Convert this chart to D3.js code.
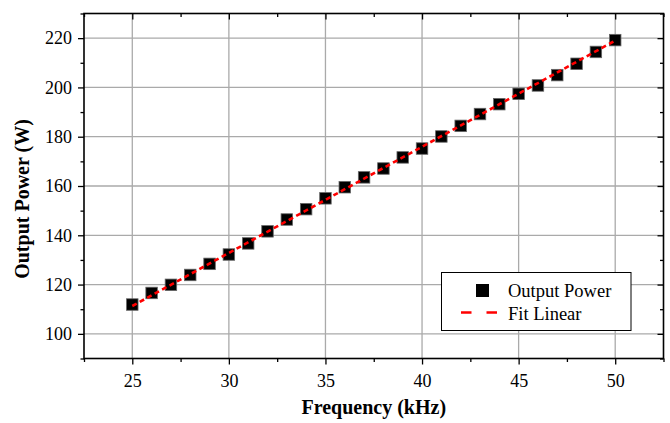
<!DOCTYPE html>
<html>
<head>
<meta charset="utf-8">
<script src="https://cdn.jsdelivr.net/npm/d3@7"></script>
<style>
  html, body { margin: 0; padding: 0; background: #fff; }
  svg { display: block; }
  text { font-family: "Liberation Serif", "Times New Roman", serif; fill: #000; }
</style>
</head>
<body>
<svg id="chart" width="670" height="423"></svg>
<script>
// ---- data ----
const frequency = [25, 26, 27, 28, 29, 30, 31, 32, 33, 34, 35, 36, 37, 38, 39, 40, 41, 42, 43, 44, 45, 46, 47, 48, 49, 50];
const outputPower = [111.9, 116.6, 119.9, 123.9, 128.4, 132.2, 136.7, 141.6, 146.4, 150.6, 155.0, 159.5, 163.5, 167.1, 171.6, 175.2, 180.1, 184.4, 189.2, 193.2, 197.4, 200.8, 205.0, 209.6, 214.4, 219.2];
const fitX = [25, 50];
const fitY = [111.3, 219.0];
const xTicks = [25, 30, 35, 40, 45, 50];
const xMinorTicks = [22.5, 27.5, 32.5, 37.5, 42.5, 47.5, 52.5];
const yTicks = [100, 120, 140, 160, 180, 200, 220];
const yMinorTicks = [90, 110, 130, 150, 170, 190, 210, 230];
const xTitle = "Frequency (kHz)";
const yTitle = "Output Power (W)";
const legendLabels = ["Output Power", "Fit Linear"];

// ---- layout ----
const svg = d3.select("#chart");
const L = 84, R = 663.5, T = 13.5, B = 358.5;
const x = d3.scaleLinear().domain([22.5, 52.5]).range([L, R]);
const y = d3.scaleLinear().domain([90, 230]).range([B, T]);

// grid
const grid = svg.append("g").attr("stroke", "#aaaaaa").attr("stroke-width", 1.3);
grid.selectAll("line.gx").data(xTicks).join("line")
  .attr("x1", d => x(d)).attr("x2", d => x(d)).attr("y1", T).attr("y2", B);
grid.selectAll("line.gy").data(yTicks).join("line")
  .attr("y1", d => y(d)).attr("y2", d => y(d)).attr("x1", L).attr("x2", R);

// axes
function styleAxis(g) {
  g.select(".domain").remove();
  g.selectAll(".tick line").attr("stroke", "#000").attr("stroke-width", 1.3);
  g.selectAll(".tick text").style("font-size", "18px").style("font-family", "'Liberation Serif', serif");
}
// bottom
svg.append("g").attr("transform", `translate(0,${B})`)
  .call(d3.axisBottom(x).tickValues(xTicks).tickSize(6).tickPadding(10).tickFormat(d3.format("d")))
  .call(styleAxis);
svg.append("g").attr("transform", `translate(0,${B})`)
  .call(d3.axisBottom(x).tickValues(xMinorTicks).tickSize(3.5).tickFormat(""))
  .call(styleAxis);
// top (inward)
svg.append("g").attr("transform", `translate(0,${T})`)
  .call(d3.axisTop(x).tickValues(xTicks).tickSize(-6).tickFormat(""))
  .call(styleAxis);
svg.append("g").attr("transform", `translate(0,${T})`)
  .call(d3.axisTop(x).tickValues(xMinorTicks).tickSize(-3.5).tickFormat(""))
  .call(styleAxis);
// left
svg.append("g").attr("transform", `translate(${L},0)`)
  .call(d3.axisLeft(y).tickValues(yTicks).tickSize(6).tickPadding(6).tickFormat(d3.format("d")))
  .call(styleAxis);
svg.append("g").attr("transform", `translate(${L},0)`)
  .call(d3.axisLeft(y).tickValues(yMinorTicks).tickSize(3.5).tickFormat(""))
  .call(styleAxis);
// right (inward)
svg.append("g").attr("transform", `translate(${R},0)`)
  .call(d3.axisRight(y).tickValues(yTicks).tickSize(-6).tickFormat(""))
  .call(styleAxis);
svg.append("g").attr("transform", `translate(${R},0)`)
  .call(d3.axisRight(y).tickValues(yMinorTicks).tickSize(-3.5).tickFormat(""))
  .call(styleAxis);

// frame
svg.append("rect").attr("x", L).attr("y", T).attr("width", R - L).attr("height", B - T)
  .attr("fill", "none").attr("stroke", "#000").attr("stroke-width", 1.6);

// points
const ms = 11.5;
svg.append("g").selectAll("rect").data(frequency).join("rect")
  .attr("x", (d) => x(d) - ms / 2)
  .attr("y", (d, i) => y(outputPower[i]) - ms / 2)
  .attr("width", ms).attr("height", ms)
  .attr("fill", "#000").attr("stroke", "#666").attr("stroke-width", 0.8);

// fit line
const line = d3.line().x(d => x(d[0])).y(d => y(d[1]));
svg.append("path").datum(fitX.map((v, i) => [v, fitY[i]]))
  .attr("d", line).attr("fill", "none").attr("stroke", "#ff0000")
  .attr("stroke-width", 2.6).attr("stroke-dasharray", "5,3.5");

// axis titles
svg.append("text").attr("x", (L + R) / 2).attr("y", 414).attr("text-anchor", "middle")
  .style("font-size", "20px").style("font-weight", "bold").text(xTitle);
svg.append("text").attr("transform", "translate(29,199) rotate(-90)").attr("text-anchor", "middle")
  .style("font-size", "20px").style("font-weight", "bold").text(yTitle);

// legend
const lg = svg.append("g");
lg.append("rect").attr("x", 441.5).attr("y", 272.5).attr("width", 189.5).attr("height", 58)
  .attr("fill", "#fff").attr("stroke", "#000").attr("stroke-width", 1);
lg.append("rect").attr("x", 482.5 - 6.5).attr("y", 290.5 - 6.5).attr("width", 13).attr("height", 13)
  .attr("fill", "#000");
lg.append("line").attr("x1", 461).attr("x2", 498).attr("y1", 312.5).attr("y2", 312.5)
  .attr("stroke", "#ff0000").attr("stroke-width", 2.6).attr("stroke-dasharray", "10.5,15");
lg.append("text").attr("x", 508).attr("y", 296.5).style("font-size", "18.5px").text(legendLabels[0]);
lg.append("text").attr("x", 508).attr("y", 320).style("font-size", "18.5px").text(legendLabels[1]);
</script>
</body>
</html>
